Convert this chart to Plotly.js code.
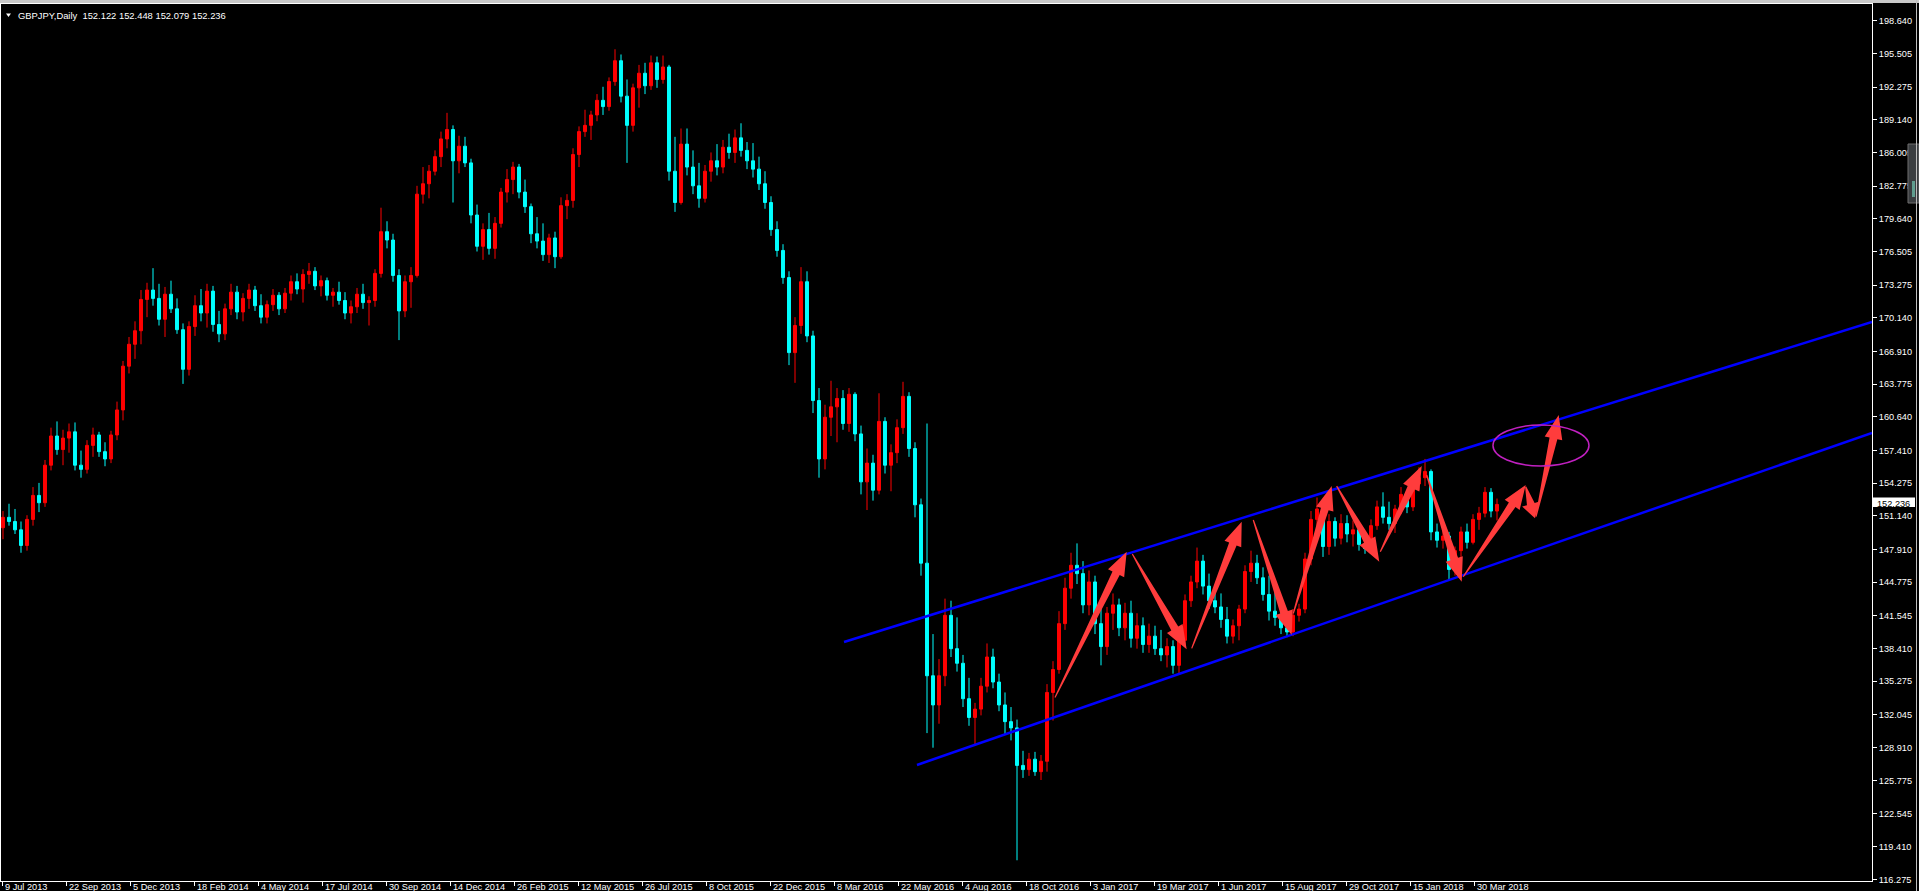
<!DOCTYPE html>
<html><head><meta charset="utf-8">
<script src="https://cdn.plot.ly/plotly-3.0.1.min.js"></script>
<style>html,body{margin:0;padding:0;background:#000;overflow:hidden}#chart{width:1919px;height:891px}</style>
</head><body><div id="chart"></div>
<script>
const symbolTitle = 'GBPJPY,Daily  152.122 152.448 152.079 152.236';
const lastPrice = 152.236;

// Weekly OHLC (Jul 2013 - Apr 2018)
const opens = [150.0,151.0,150.6,149.8,148.3,150.8,153.1,152.4,156.0,158.8,
157.5,158.6,159.2,156.0,155.6,157.9,158.9,157.3,156.6,158.9,
161.3,165.5,167.6,168.9,171.9,172.8,172.0,170.0,172.4,171.0,
169.0,165.2,169.3,171.3,170.6,172.7,169.5,168.6,171.0,172.6,
170.7,172.0,172.8,171.3,170.2,171.4,172.3,171.0,172.5,173.6,
172.9,174.3,174.6,173.2,173.7,172.3,172.6,171.8,170.6,171.2,
172.4,171.6,171.8,174.4,178.4,177.6,174.2,170.8,173.6,174.2,
182.0,183.0,184.2,185.6,187.3,188.2,185.2,186.6,185.0,180.0,
177.0,178.6,176.8,179.2,182.2,183.4,184.6,182.2,180.8,178.2,
177.5,176.2,177.8,176.0,180.9,181.4,185.8,188.0,188.6,189.6,
191.0,190.4,192.8,194.8,191.4,188.6,192.2,193.6,192.4,194.6,
193.0,194.2,184.2,181.2,186.8,184.6,182.8,181.6,184.2,185.2,
184.6,186.5,186.0,187.4,186.2,185.2,184.4,183.0,181.2,178.6,
176.6,174.0,166.8,169.4,173.6,168.4,162.2,156.6,160.6,161.6,
162.4,160.0,162.8,159.0,154.4,156.2,153.6,160.2,156.0,157.2,
159.6,162.6,157.6,152.2,146.6,135.8,133.0,135.8,141.6,138.4,
137.0,133.6,131.8,132.6,134.8,137.6,135.2,133.0,131.4,130.8,
127.2,126.8,127.8,126.6,127.6,134.2,136.4,140.8,144.2,146.4,
145.6,142.6,144.8,140.8,138.6,141.8,142.6,140.4,141.8,139.4,
140.6,138.8,139.6,138.4,137.8,138.6,136.8,139.2,143.0,144.8,
146.8,144.4,143.0,142.4,141.2,139.6,140.6,142.2,145.8,146.6,
145.2,143.6,142.0,141.4,140.4,140.0,141.6,142.2,147.0,150.8,
151.8,148.2,150.6,149.0,150.4,149.4,149.8,148.4,148.0,150.2,
152.0,151.0,150.4,151.8,153.2,152.0,154.2,154.8,155.4,149.6,
148.8,149.2,146.0,147.8,149.6,148.6,150.8,151.4,153.4,151.6];
const highs = [151.6,152.3,151.8,150.6,151.2,153.9,154.3,156.5,159.6,160.2,
159.4,160.0,160.1,157.4,158.4,159.6,159.2,158.2,159.3,162.1,
166.0,168.3,169.8,172.8,173.5,174.9,173.4,173.1,173.7,172.0,
169.6,169.8,172.3,172.9,173.4,173.2,170.8,171.5,173.4,173.2,
172.5,173.4,173.2,172.4,171.8,172.9,172.6,173.0,174.2,174.4,
174.8,175.4,175.0,174.2,174.0,173.0,173.6,172.6,171.8,173.0,
173.4,172.2,174.8,180.7,179.4,178.2,174.8,174.2,175.0,182.8,
184.6,184.8,186.2,188.0,189.8,188.6,187.6,187.5,185.4,181.0,
179.2,180.2,179.8,182.6,184.4,185.1,184.9,183.4,181.1,179.8,
179.2,178.2,178.4,181.7,182.0,186.4,188.5,190.1,190.0,191.6,
192.3,193.2,195.9,195.4,193.0,192.6,194.4,194.6,195.3,195.2,
195.3,194.4,187.5,188.3,188.3,186.2,185.0,184.8,186.0,186.8,
187.2,187.8,188.2,188.8,187.0,186.9,185.6,184.2,181.8,179.4,
177.2,174.6,170.2,175.0,174.6,168.9,163.4,161.8,164.1,163.4,
163.2,163.4,163.0,159.8,157.6,157.0,162.9,160.6,158.0,160.4,
164.0,163.0,158.2,152.8,160.0,139.8,137.4,143.2,143.0,141.4,
137.8,135.6,133.2,135.6,138.9,138.4,136.0,134.2,132.8,131.6,
128.6,128.4,128.5,128.2,135.0,137.2,142.0,145.2,147.6,148.5,
146.8,145.9,145.4,142.2,142.4,143.7,143.2,142.8,143.0,141.8,
141.4,140.8,140.6,140.2,139.4,139.2,139.6,143.6,145.4,148.1,
147.4,145.6,144.2,143.7,142.4,141.2,142.6,146.4,147.8,147.4,
146.2,145.4,143.8,143.0,141.6,142.2,142.7,147.6,151.6,152.9,
152.6,151.3,151.0,151.3,151.2,150.7,150.4,149.6,150.8,152.6,
153.4,152.5,152.2,153.9,153.6,154.6,155.8,156.6,155.6,150.4,
150.2,149.6,148.2,150.1,150.4,151.3,152.0,153.9,153.8,152.8];
const lows = [148.9,150.2,149.4,147.6,147.8,150.2,151.5,152.0,155.5,157.0,
156.0,157.2,155.5,154.8,155.2,156.8,156.8,155.9,156.2,158.4,
160.3,164.8,166.2,167.6,170.2,171.3,169.4,168.3,170.6,168.6,
163.8,164.6,168.4,169.8,169.2,168.8,167.8,168.0,170.4,170.0,
169.8,171.0,170.8,169.6,169.6,170.8,170.4,170.6,171.8,172.4,
171.6,173.4,172.8,172.2,171.8,171.2,171.4,170.0,169.6,170.6,
171.0,169.4,171.2,174.0,176.8,173.6,168.0,170.2,171.1,174.0,
181.1,181.6,183.8,184.6,186.4,181.2,184.0,184.6,179.2,176.5,
175.7,176.2,175.8,178.8,181.2,182.0,181.6,180.2,177.3,176.8,
175.6,175.4,174.9,175.8,179.6,180.7,184.6,187.5,187.2,189.0,
189.6,190.0,192.4,190.8,185.0,188.0,190.3,191.6,192.0,192.2,
192.6,183.3,180.3,181.0,183.8,182.0,180.7,181.2,183.2,183.8,
184.0,185.4,185.0,185.6,184.4,183.6,182.4,180.6,178.0,176.0,
173.4,165.6,163.9,168.6,167.8,161.0,154.8,155.6,158.8,158.2,
159.4,159.2,158.3,153.2,151.7,152.6,153.2,155.2,153.5,156.2,
159.0,156.8,151.0,145.4,130.3,128.9,131.2,134.8,137.6,136.2,
132.8,131.0,129.2,132.0,134.2,134.6,132.4,130.2,129.6,118.1,
126.0,126.2,126.2,125.8,126.6,131.5,136.0,140.2,143.2,144.6,
141.8,141.6,139.8,136.8,137.8,140.2,139.6,139.2,138.5,138.4,
138.0,138.0,137.8,137.2,136.6,136.0,136.0,138.8,142.4,144.2,
143.6,142.2,141.8,140.4,138.9,138.9,139.2,141.8,144.8,144.6,
143.0,141.1,140.6,139.8,139.5,139.6,141.0,141.8,146.4,149.6,
147.2,147.4,148.2,148.4,148.6,148.2,147.8,147.5,147.6,149.8,
150.4,149.8,149.5,151.3,151.4,151.6,153.6,154.0,148.8,148.1,
148.0,145.0,145.4,147.2,148.0,148.4,149.8,151.0,151.0,150.7];
const closes = [151.0,150.6,149.8,148.3,150.8,153.1,152.4,156.0,158.8,157.5,
158.6,159.2,156.0,155.6,157.9,158.9,157.3,156.6,158.9,161.3,
165.5,167.6,168.9,171.9,172.8,172.0,170.0,172.4,171.0,169.0,
165.2,169.3,171.3,170.6,172.7,169.5,168.6,171.0,172.6,170.7,
172.0,172.8,171.3,170.2,171.4,172.3,171.0,172.5,173.6,172.9,
174.3,174.6,173.2,173.7,172.3,172.6,171.8,170.6,171.2,172.4,
171.6,171.8,174.4,178.4,177.6,174.2,170.8,173.6,174.2,182.0,
183.0,184.2,185.6,187.3,188.2,185.2,186.6,185.0,180.0,177.0,
178.6,176.8,179.2,182.2,183.4,184.6,182.2,180.8,178.2,177.5,
176.2,177.8,176.0,180.9,181.4,185.8,188.0,188.6,189.6,191.0,
190.4,192.8,194.8,191.4,188.6,192.2,193.6,192.4,194.6,193.0,
194.2,184.2,181.2,186.8,184.6,182.8,181.6,184.2,185.2,184.6,
186.5,186.0,187.4,186.2,185.2,184.4,183.0,181.2,178.6,176.6,
174.0,166.8,169.4,173.6,168.4,162.2,156.6,160.6,161.6,162.4,
160.0,162.8,159.0,154.4,156.2,153.6,160.2,156.0,157.2,159.6,
162.6,157.6,152.2,146.6,135.8,133.0,135.8,141.6,138.4,137.0,
133.6,131.8,132.6,134.8,137.6,135.2,133.0,131.4,130.8,127.2,
126.8,127.8,126.6,127.6,134.2,136.4,140.8,144.2,146.4,145.6,
142.6,144.8,140.8,138.6,141.8,142.6,140.4,141.8,139.4,140.6,
138.8,139.6,138.4,137.8,138.6,136.8,139.2,143.0,144.8,146.8,
144.4,143.0,142.4,141.2,139.6,140.6,142.2,145.8,146.6,145.2,
143.6,142.0,141.4,140.4,140.0,141.6,142.2,147.0,150.8,151.8,
148.2,150.6,149.0,150.4,149.4,149.8,148.4,148.0,150.2,152.0,
151.0,150.4,151.8,153.2,152.0,154.2,154.8,155.4,149.6,148.8,
149.2,146.0,147.8,149.6,148.6,150.8,151.4,153.4,151.6,152.236];

const yTickValues = [198.640,195.505,192.275,189.140,186.005,182.775,179.640,176.505,173.275,170.140,
166.910,163.775,160.640,157.410,154.275,151.140,147.910,144.775,141.545,138.410,135.275,132.045,
128.910,125.775,122.545,119.410,116.275];
const xTickLabels = ['9 Jul 2013','22 Sep 2013','5 Dec 2013','18 Feb 2014','4 May 2014','17 Jul 2014',
'30 Sep 2014','14 Dec 2014','26 Feb 2015','12 May 2015','26 Jul 2015','8 Oct 2015','22 Dec 2015',
'8 Mar 2016','22 May 2016','4 Aug 2016','18 Oct 2016','3 Jan 2017','19 Mar 2017','1 Jun 2017',
'15 Aug 2017','29 Oct 2017','15 Jan 2018','30 Mar 2018'];

// drawn objects (week index, price)
const channelUpper = [140.17, 139.04, 311.5, 169.74];
const channelLower = [152.33, 127.24, 311.5, 159.09];
const arrows = [
 [175.33,133.71,187.28,147.70],
 [188.22,147.48,197.28,138.34],
 [198.12,138.43,206.45,150.58],
 [208.38,150.74,214.78,139.71],
 [215.05,141.79,221.45,154.00],
 [222.28,154.00,229.38,146.74],
 [229.55,147.70,236.45,155.92],
 [237.28,155.06,243.12,144.82],
 [243.38,145.30,253.78,154.10],
 [253.78,153.94,255.33,150.91],
 [255.50,151.06,259.28,160.82]
];
const targetEllipse = [248.33,155.92,264.33,159.86];

// ---------- layout geometry ----------
const W = 1919, H = 891;
const M = {l:1, r:47, t:4, b:10};
const plotW = W - M.l - M.r, plotH = H - M.t - M.b;
const barsPerLabel = 64, barsPerWeek = 6;
const xr = [-2/barsPerWeek, (plotW + M.l - 3)/barsPerWeek];
const yr = [116.112, 200.242];

const toPx = (i,p) => [M.l + (i - xr[0])/(xr[1]-xr[0])*plotW, M.t + (yr[1]-p)/(yr[1]-yr[0])*plotH];
const toData = (x,y) => [xr[0] + (x - M.l)/plotW*(xr[1]-xr[0]), yr[1] - (y - M.t)/plotH*(yr[1]-yr[0])];
const pxX = x => (x - M.l)/plotW;
const pyY = y => (M.t + plotH - y)/plotH;

function arrowPath(a){
  const [tx,ty] = toPx(a[0],a[1]);
  const [hx,hy] = toPx(a[2],a[3]);
  const dx = hx-tx, dy = hy-ty, len = Math.hypot(dx,dy);
  const ux = dx/len, uy = dy/len, nx = -uy, ny = ux;
  const hl = Math.min(24, len*0.45), hw = Math.min(9, len*0.3), bw = Math.min(4, hw*0.45), tw = 0.6;
  const bx = hx-ux*hl, by = hy-uy*hl;
  const pts = [[tx+nx*tw,ty+ny*tw],[bx+nx*bw,by+ny*bw],[bx+nx*hw,by+ny*hw],[hx,hy],
               [bx-nx*hw,by-ny*hw],[bx-nx*bw,by-ny*bw],[tx-nx*tw,ty-ny*tw]];
  return 'M' + pts.map(p => { const d = toData(p[0],p[1]); return d[0].toFixed(3)+','+d[1].toFixed(3); }).join('L') + 'Z';
}

const idx = opens.map((_, i) => i);
const xTickVals = xTickLabels.map((_, k) => (2 + barsPerLabel*k - 3)/barsPerWeek);

const fontFam = 'Liberation Sans, Arial, sans-serif';
const shapes = [];
[channelUpper, channelLower].forEach(c => shapes.push({type:'line', xref:'x', yref:'y',
  x0:c[0], y0:c[1], x1:c[2], y1:c[3], line:{color:'#0000FF', width:2.5}}));
arrows.forEach(a => shapes.push({type:'path', xref:'x', yref:'y', path: arrowPath(a),
  fillcolor:'#FF3C3C', line:{width:0}}));
shapes.push({type:'circle', xref:'x', yref:'y', x0:targetEllipse[0], y0:targetEllipse[1],
  x1:targetEllipse[2], y1:targetEllipse[3], line:{color:'#C020C0', width:1.5}});
// window chrome
shapes.push({type:'rect', xref:'paper', yref:'paper', x0:pxX(0), x1:pxX(W), y0:pyY(3), y1:pyY(0),
  fillcolor:'#C8C8C8', line:{width:0}, layer:'above'});
shapes.push({type:'path', xref:'paper', yref:'paper',
  path:`M${pxX(6)},${pyY(13.5)}L${pxX(11)},${pyY(13.5)}L${pxX(8.5)},${pyY(17)}Z`, fillcolor:'#FFFFFF', line:{width:0}});
shapes.push({type:'rect', xref:'paper', yref:'paper', x0:pxX(1908), x1:pxX(1919), y0:pyY(203), y1:pyY(144),
  fillcolor:'#3A3D40', line:{color:'#6E6E6E', width:1}});
shapes.push({type:'rect', xref:'paper', yref:'paper', x0:pxX(1912), x1:pxX(1915), y0:pyY(197), y1:pyY(181),
  fillcolor:'rgba(110,190,170,0.75)', line:{width:0}});
shapes.push({type:'line', xref:'paper', yref:'paper', x0:pxX(1916.5), x1:pxX(1916.5), y0:pyY(H), y1:pyY(0),
  line:{color:'#BEBEBE', width:1}});
shapes.push({type:'rect', xref:'paper', yref:'paper', x0:pxX(1873), x1:pxX(1915), y0:pyY(507), y1:pyY(497.5),
  fillcolor:'#FFFFFF', line:{width:0}});

const annotations = [];
annotations.push({xref:'paper', yref:'paper', x:pxX(16), y:pyY(15.5), xanchor:'left', yanchor:'middle',
  text:symbolTitle.replace(/  /g,'&nbsp; '), showarrow:false, font:{family:fontFam, size:9.4, color:'#FFFFFF'}});
annotations.push({xref:'paper', yref:'y', x:pxX(1875), y:lastPrice, xanchor:'left', yanchor:'middle',
  text:lastPrice.toFixed(3), showarrow:false, font:{family:fontFam, size:9.2, color:'#000000'}});
xTickLabels.forEach((t, k) => annotations.push({xref:'x', yref:'paper', x:xTickVals[k], y:pyY(880.5),
  xanchor:'left', yanchor:'top', xshift:2, borderpad:0, text:t, showarrow:false,
  font:{family:fontFam, size:9.2, color:'#FFFFFF'}}));

const trace = {type:'candlestick', x:idx, open:opens, high:highs, low:lows, close:closes,
  increasing:{line:{color:'#FF0000', width:1}, fillcolor:'#FF0000'},
  decreasing:{line:{color:'#00FFFF', width:1}, fillcolor:'#00FFFF'},
  whiskerwidth:0, hoverinfo:'none', showlegend:false};

const layout = {
  width:W, height:H, margin:M, paper_bgcolor:'#000000', plot_bgcolor:'#000000', showlegend:false,
  xaxis:{range:xr, rangeslider:{visible:false}, showgrid:false, zeroline:false, showline:true, mirror:true,
    linecolor:'#FFFFFF', linewidth:1, ticks:'outside', ticklen:4, tickcolor:'#FFFFFF',
    tickvals:xTickVals, showticklabels:false, fixedrange:true},
  yaxis:{range:yr, side:'right', showgrid:false, zeroline:false, showline:true, mirror:true,
    linecolor:'#FFFFFF', linewidth:1, ticks:'outside', ticklen:4, tickcolor:'#FFFFFF',
    tickvals:yTickValues, ticktext:yTickValues.map(v => v.toFixed(3)),
    tickfont:{family:fontFam, size:9.2, color:'#FFFFFF'}, fixedrange:true},
  shapes:shapes, annotations:annotations
};
Plotly.newPlot('chart', [trace], layout, {displayModeBar:false, staticPlot:true});
</script></body></html>
